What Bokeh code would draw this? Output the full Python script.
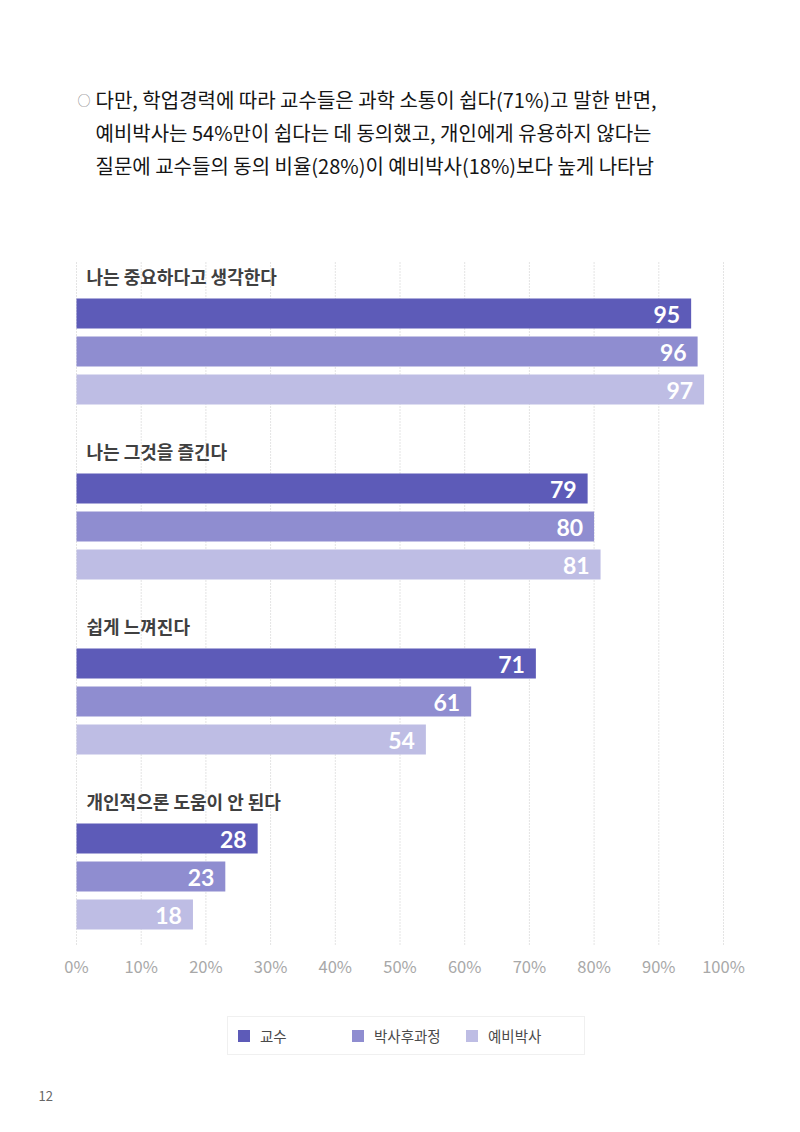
from bokeh.plotting import figure
from bokeh.models import Range1d, FixedTicker, Legend, LegendItem, ColumnDataSource
from bokeh.core.properties import value
from bokeh.embed import file_html
from bokeh.resources import INLINE

# ---------------- data ----------------
questions = ["나는 중요하다고 생각한다", "나는 그것을 즐긴다", "쉽게 느껴진다", "개인적으론 도움이 안 된다"]
groups = ["교수", "박사후과정", "예비박사"]
professors = [95, 79, 71, 28]
postdocs = [96, 80, 61, 23]
candidates = [97, 81, 54, 18]
tick_values = [0, 10, 20, 30, 40, 50, 60, 70, 80, 90, 100]
tick_labels = ["0%", "10%", "20%", "30%", "40%", "50%", "60%", "70%", "80%", "90%", "100%"]
heading_lines = [
    "다만, 학업경력에 따라 교수들은 과학 소통이 쉽다(71%)고 말한 반면,",
    "예비박사는 54%만이 쉽다는 데 동의했고, 개인에게 유용하지 않다는",
    "질문에 교수들의 동의 비율(28%)이 예비박사(18%)보다 높게 나타남",
]
page_number = "12"

# ---------------- style / layout ----------------
colors = ["#5d5bb8", "#8f8dd0", "#bebde4"]
KR = "Noto Sans CJK KR"
W, H = 800, 1132
X0_PX, X100_PX = 76, 723
PX = (X100_PX - X0_PX) / 100.0
GRID_BOTTOM = 946
AXIS_Y = 940
GROUP_TOP = 275
GROUP_PITCH = 175
LABEL_TO_BAR = 38
BAR_PITCH = 38
BAR_H = 30

p = figure(width=W, height=H, output_backend="svg", toolbar_location=None,
           x_range=Range1d(-X0_PX / PX, (W - X0_PX) / PX), y_range=Range1d(H, 0),
           y_axis_location=None, min_border=0,
           background_fill_color="white", border_fill_color="white")
p.outline_line_color = None
p.xgrid.grid_line_color = None
p.ygrid.grid_line_color = None

# dotted vertical grid lines
p.segment(x0=tick_values, x1=tick_values, y0=[262] * len(tick_values), y1=[GRID_BOTTOM] * len(tick_values),
          line_color="#c8c8c8", line_width=1, line_dash="1 2")

# bars
series = [professors, postdocs, candidates]
label_ys = [GROUP_TOP + i * GROUP_PITCH for i in range(len(questions))]
renderers = []
for j, vals in enumerate(series):
    ys = [ly + LABEL_TO_BAR + j * BAR_PITCH for ly in label_ys]
    src = ColumnDataSource(dict(y=ys, right=vals, txt=[str(v) for v in vals]))
    r = p.hbar(y="y", left=0, right="right", height=BAR_H, source=src,
               fill_color=colors[j], line_color=None)
    renderers.append(r)
    p.text(x="right", y="y", text="txt", source=src, x_offset=-11, y_offset=1,
           text_align="right", text_baseline="middle", text_color="white",
           text_font=value("Lato"), text_font_style="bold", text_font_size="23px")

# category labels
p.text(x=[0] * len(questions), y=label_ys, text=questions, x_offset=10,
       text_baseline="middle", text_align="left", text_color="#404040",
       text_font=value(KR), text_font_style="bold", text_font_size="18px")

# heading
heading_ys = [99, 132, 165]
p.text(x=[0] * 3, y=heading_ys, text=heading_lines, x_offset=19,
       text_baseline="middle", text_align="left", text_color="#151515",
       text_font=value(KR), text_font_size="20px")
p.text(x=[0], y=[heading_ys[0]], text=["○"], x_offset=1, text_baseline="middle",
       text_color="#8a8a8a", text_font=value(KR), text_font_size="13px")

# x axis (drawn inside the frame at a fixed location)
ax = p.xaxis[0]
ax.fixed_location = AXIS_Y
ax.ticker = FixedTicker(ticks=tick_values)
ax.major_label_overrides = {v: l for v, l in zip(tick_values, tick_labels)}
ax.axis_line_color = None
ax.major_tick_line_color = None
ax.minor_tick_line_color = None
ax.major_label_standoff = 7
ax.major_label_text_color = "#a8a8a8"
ax.major_label_text_font = KR
ax.major_label_text_font_size = "16.5px"

# legend
legend = Legend(items=[LegendItem(label=g, renderers=[r]) for g, r in zip(groups, renderers)],
                orientation="horizontal", location=(227, H - 1055),
                glyph_width=15, glyph_height=15, label_height=15, label_width=88,
                label_standoff=9, spacing=2, padding=8, margin=0,
                border_line_color="#e2e2e2", border_line_width=1,
                label_text_font=KR, label_text_font_size="14.5px", label_text_color="#4a4a4a",
                background_fill_color="white")
p.add_layout(legend, "center")

# page number
p.text(x=[0], y=[1095], text=[page_number], x_offset=-38, text_baseline="middle",
       text_font=value(KR), text_font_size="13px", text_color="#666666")

open("out.html", "w").write(file_html(p, INLINE))
